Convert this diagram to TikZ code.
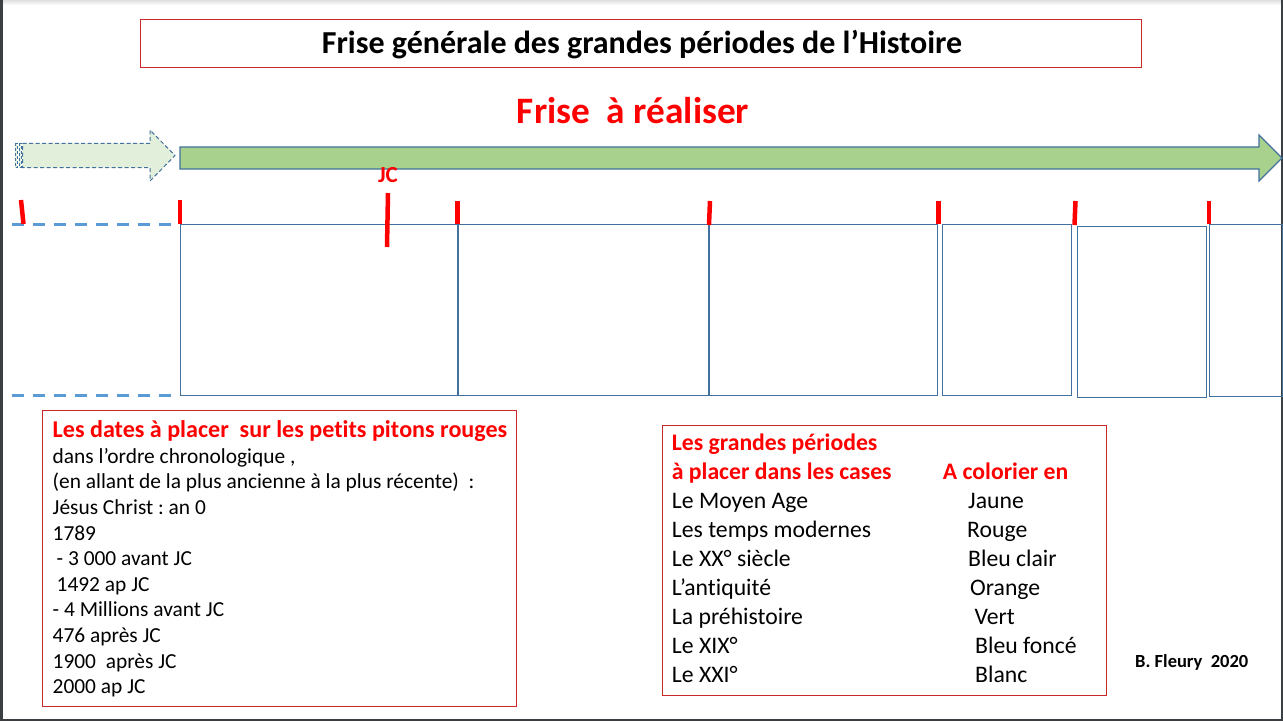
\documentclass[tikz,border=0pt]{standalone}
\usepackage{fontspec}
\setmainfont{Carlito}[Ligatures={NoCommon}]
\frenchspacing
\definecolor{boxred}{RGB}{200,40,40}
\definecolor{tickred}{RGB}{255,0,0}
\definecolor{txtred}{RGB}{255,0,0}
\definecolor{slotblue}{RGB}{65,113,156}
\definecolor{dashblue}{RGB}{91,155,213}
\definecolor{arrowgreen}{RGB}{169,209,142}
\definecolor{lightgreen}{RGB}{226,239,218}
\definecolor{frame}{RGB}{58,63,68}
\newcommand{\fs}[1]{\fontsize{#1}{#1}\selectfont}
\newcommand{\nl}{\kern0pt }
\begin{document}
\begin{tikzpicture}[x=1pt,y=-1pt,
  redbox/.style={draw=boxred,line width=1.2pt,inner sep=0pt,anchor=north west},
  slot/.style={draw=slotblue,line width=1.3pt,inner sep=0pt,anchor=north west},
  tickmark/.style={draw=tickred,line width=4.5pt},
  dline/.style={draw=dashblue,line width=3pt,dash pattern=on 12pt off 9pt},
  ln/.style={anchor=base west,inner sep=0pt},
]
\useasboundingbox (0,0) rectangle (1283,721);
\fill[white] (0,0) rectangle (1283,721);
% viewer frame
\shade[top color=gray!25,bottom color=white] (0,0) rectangle (1283,5);
\fill[frame] (0,0) rectangle (2.5,721);
\fill[frame] (1280.5,0) rectangle (1283,721);
\fill[frame] (0,719) rectangle (1283,721);

% title
\node[redbox,minimum width=1001pt,minimum height=48pt] (titlebox) at (140,19) {};
\node[font=\fs{32}\bfseries] (title) at ([xshift=1pt,yshift=-1pt]titlebox.center) {Frise générale des grandes périodes de l’Histoire};
\node[font=\fs{37.3}\bfseries,text=txtred] (sub) at (633,111) {Frise\ \ à réaliser};

% light dashed arrow
\draw[fill=lightgreen,draw=slotblue,line width=1pt,dash pattern=on 4pt off 2.5pt]
  (22.5,143.3) -- (150,143.3) -- (150,130) -- (175,155.5) -- (150,181) -- (150,167.7) -- (22.5,167.7) -- cycle;
\draw[fill=lightgreen,draw=slotblue,line width=1pt,dash pattern=on 3pt off 2pt] (15,143.3) rectangle (17,167.7);
\draw[fill=lightgreen,draw=slotblue,line width=1pt,dash pattern=on 3pt off 2pt] (19,143.3) rectangle (21,167.7);

% main arrow
\draw[fill=arrowgreen,draw=slotblue,line width=1.2pt]
  (180,147) -- (1259,147) -- (1259,135) -- (1282,158) -- (1259,181) -- (1259,169) -- (180,169) -- cycle;

% dashed lines
\draw[dline] (12,224.5) -- (180,224.5);
\draw[dline] (12,395.5) -- (180,395.5);

% timeline boxes
\node[slot,minimum width=277pt,minimum height=171pt] (b1) at (180,224) {};
\node[slot,minimum width=250pt,minimum height=171pt] (b2) at (457.5,224) {};
\node[slot,minimum width=228pt,minimum height=171pt] (b3) at (709,224) {};
\node[slot,minimum width=129pt,minimum height=171pt] (b4) at (942,224) {};
\node[slot,minimum width=129pt,minimum height=171pt] (b5) at (1077,226) {};
\node[slot,minimum width=73pt,minimum height=172pt] (b6) at (1209,224) {};

% ticks
\draw[tickmark] (21,200) -- (23.5,224);
\draw[tickmark] (180,200) -- (180,224);
\draw[tickmark] (388,193) -- (387,247);
\draw[tickmark] (457.5,201) -- (457.5,224);
\draw[tickmark] (710,201) -- (709,225);
\draw[tickmark] (938.5,201) -- (938.5,224);
\draw[tickmark] (1075.5,201) -- (1074.5,225);
\draw[tickmark] (1209,201) -- (1209,224);
\node[font=\fs{23}\bfseries,text=txtred] (jc) at (388,175) {JC};

% dates box
\node[redbox,minimum width=474pt,minimum height=296pt] (datesbox) at (42,410) {};
\foreach \t [count=\i from 0] in {
  {\fs{24.1}\color{txtred}\bfseries Les dates à placer\ \ sur les pet\nl its pit\nl ons rouges},
  {dans l’ordre chronologique ,},
  {(en allant de la plus ancienne à la plus récente)\ \ :},
  {Jésus Christ : an 0},
  {1789},
  {\hspace{4pt}- 3 000 avant JC},
  {\hspace{4pt}1492 ap JC},
  {- 4 Millions avant JC},
  {476 après JC},
  {1900\ \ après JC},
  {2000 ap JC}}
  \node[ln,font=\fs{21.4}] (d\i) at (52.5,437.7+25.6*\i) {\t};

% periods box
\node[redbox,minimum width=444pt,minimum height=270pt] (perbox) at (661.7,425) {};
\foreach \t [count=\i from 0] in {
  {\color{txtred}\bfseries Les grandes périodes},
  {\color{txtred}\bfseries à placer dans les cases},
  {Le Moyen Age},
  {Les temps modernes},
  {Le XX° siècle},
  {L’ant\nl iquité},
  {La préhistoire},
  {Le XIX°},
  {Le XXI°}}
  \node[ln,font=\fs{23.7}] (p\i) at (671.7,450+29*\i) {\t};
\node[ln,font=\fs{23.7}\bfseries,text=txtred] (col) at (942.7,479) {A colorier en};
\foreach \t/\x [count=\i from 2] in {Jaune/968,Rouge/967,Bleu clair/968,Orange/970,Vert/974.3,Bleu foncé/975,Blanc/975}
  \node[ln,font=\fs{23.7}] (c\i) at (\x,450+29*\i) {\t};

\node[ln,font=\fs{18.5}\bfseries] (auth) at (1135,667) {B. Fleury\ \ 2020};
\end{tikzpicture}
\end{document}
